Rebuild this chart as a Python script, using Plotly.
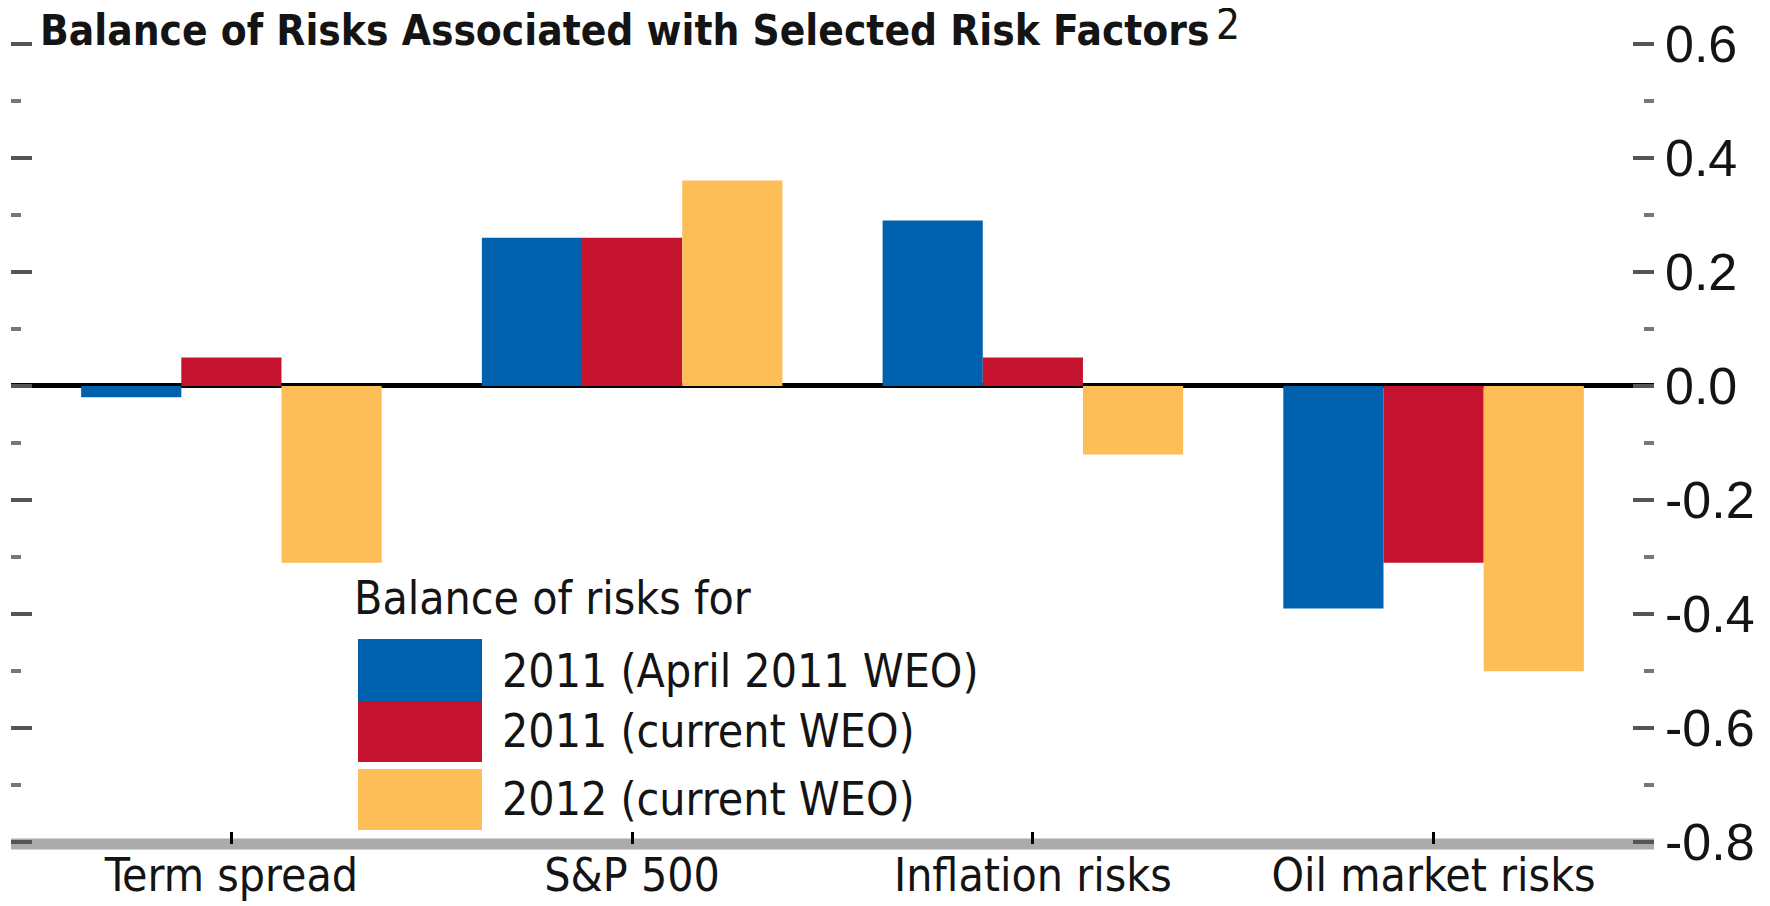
import plotly.graph_objects as go

# ---------------- data ----------------
categories = ["Term spread", "S&P 500", "Inflation risks", "Oil market risks"]
series_names = ["2011 (April 2011 WEO)", "2011 (current WEO)", "2012 (current WEO)"]
april_2011 = [-0.02, 0.26, 0.29, -0.39]
current_2011 = [0.05, 0.26, 0.05, -0.31]
current_2012 = [-0.31, 0.36, -0.12, -0.50]
major_tickvals = [-0.8, -0.6, -0.4, -0.2, 0.0, 0.2, 0.4, 0.6]
major_ticktext = ["-0.8", "-0.6", "-0.4", "-0.2", "0.0", "0.2", "0.4", "0.6"]
minor_tickvals = [-0.7, -0.5, -0.3, -0.1, 0.1, 0.3, 0.5]
title_text = "Balance of Risks Associated with Selected Risk Factors"
title_note = "2"
legend_title = "Balance of risks for"

# ---------------- style ----------------
OFF = 8  # page body margin of the browser
W, H = 1770 - OFF, 906 - OFF
# plot area in screen px
PL, PR, PT, PB = 11, 1654, 42, 844
colors = ["#0062AE", "#C5132F", "#FDBE57"]
COND = "DejaVu Sans Condensed, Liberation Sans Narrow, sans-serif"
REG = "Liberation Sans, Arial, sans-serif"
TXT = "#141414"


def px_x(x):
    return (x - PL) / (PR - PL)


def px_y(y):
    return (PB - y) / (PB - PT)


fig = go.Figure()
for name, vals, col in zip(series_names, [april_2011, current_2011, current_2012], colors):
    fig.add_trace(go.Bar(x=categories, y=vals, name=name, marker=dict(color=col, line=dict(width=0)),
                         showlegend=False))

# gray base axis bar
fig.add_shape(type="line", xref="paper", yref="paper", x0=0, x1=1, y0=px_y(844), y1=px_y(844),
              line=dict(color="#ABABAB", width=11), layer="below")

# custom legend
legend_boxes = [(358, 482, 639, 701), (358, 482, 701, 762), (358, 482, 769, 830)]
legend_text_y = [671, 731, 799]
for (x0, x1, y0, y1), col, name, ty in zip(legend_boxes, colors, series_names, legend_text_y):
    fig.add_shape(type="rect", xref="paper", yref="paper", x0=px_x(x0), x1=px_x(x1),
                  y0=px_y(y1), y1=px_y(y0), fillcolor=col, line=dict(width=0))
    fig.add_annotation(xref="paper", yref="paper", x=px_x(500), y=px_y(ty), text=name,
                       showarrow=False, xanchor="left", yanchor="middle",
                       font=dict(family=COND, size=46, color=TXT))
fig.add_annotation(xref="paper", yref="paper", x=px_x(352), y=px_y(598), text=legend_title,
                   showarrow=False, xanchor="left", yanchor="middle",
                   font=dict(family=COND, size=46, color=TXT))

# title + note marker
fig.add_annotation(xref="paper", yref="paper", x=px_x(38), y=px_y(30), text=title_text,
                   showarrow=False, xanchor="left", yanchor="middle",
                   font=dict(family=COND, size=42, color=TXT, weight="bold"))
fig.add_annotation(xref="paper", yref="paper", x=px_x(1214), y=px_y(25), text=title_note,
                   showarrow=False, xanchor="left", yanchor="middle",
                   font=dict(family=COND, size=42, color=TXT))

fig.update_layout(
    width=W, height=H,
    margin=dict(l=PL - OFF, r=(1770 - PR), t=PT - OFF, b=(906 - PB), pad=0),
    paper_bgcolor="white", plot_bgcolor="white",
    barmode="group", bargap=0.25, bargroupgap=0,
    showlegend=False,
    xaxis=dict(range=[-0.55, 3.55], showgrid=False, zeroline=False, showline=False,
               automargin=False,
               ticks="inside", ticklen=12, tickwidth=3, tickcolor="black",
               tickfont=dict(family=COND, size=46, color=TXT)),
    yaxis=dict(range=[-0.803, 0.603], side="right", showgrid=False, automargin=False,
               tickvals=major_tickvals, ticktext=major_ticktext,
               ticks="inside", ticklen=21, tickwidth=4, tickcolor="#555555",
               mirror="ticks", showline=False, ticklabelstandoff=10,
               minor=dict(tickvals=minor_tickvals, ticks="inside", ticklen=10, tickwidth=4,
                          tickcolor="#777777"),
               zeroline=True, zerolinecolor="black", zerolinewidth=5,
               tickfont=dict(family=REG, size=52, color=TXT)),
)

fig.write_html("out.html")
